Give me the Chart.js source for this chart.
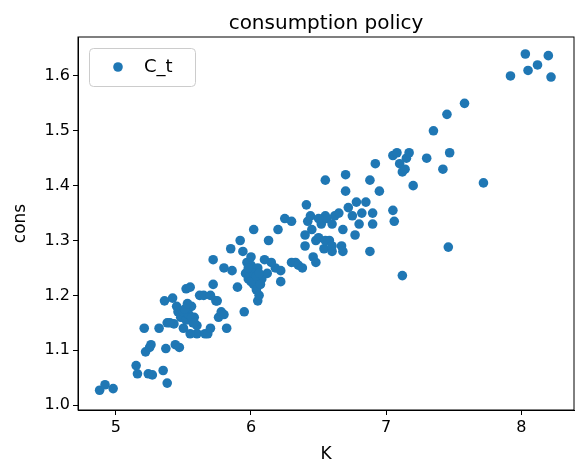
<!DOCTYPE html>
<html>
<head>
<meta charset="utf-8">
<script src="https://cdn.jsdelivr.net/npm/chart.js@4"></script>
<style>
  body { margin: 0; background: #fff; }
  #wrap { width: 584px; height: 472px; }
</style>
</head>
<body>
<div id="wrap"><canvas id="c" width="584" height="472"></canvas></div>
<script>
// capital stock K
const kVals = [4.88,4.92,4.98,5.15,5.16,5.22,5.24,5.27,5.21,5.25,5.26,5.32,5.35,5.38,5.37,5.38,5.36,5.42,5.43,5.44,5.47,5.46,5.5,5.52,5.55,5.56,5.5,5.53,5.57,5.58,5.6,5.62,5.6,5.55,5.66,5.68,5.7,5.72,5.72,5.74,5.75,5.76,5.78,5.8,5.8,5.82,5.85,5.86,5.9,5.92,5.94,5.95,5.96,5.98,6.0,6.0,6.01,6.02,6.03,6.05,6.04,6.05,6.06,6.08,6.1,6.02,5.97,6.0,6.12,6.13,6.18,6.2,6.22,6.22,6.25,6.3,6.3,6.33,6.35,6.38,6.4,6.4,6.41,6.42,6.44,6.45,6.46,6.48,6.48,6.5,6.52,6.54,6.55,6.55,6.56,6.58,6.6,6.6,6.62,6.65,6.67,6.68,6.68,6.7,6.7,6.72,6.75,6.77,6.78,6.8,6.82,6.85,6.88,6.88,6.9,6.9,6.92,6.95,7.05,7.06,7.05,7.08,7.1,7.12,7.12,7.14,7.15,7.17,7.2,7.3,7.35,7.42,7.45,7.47,7.46,7.58,7.72,7.92,8.03,8.05,8.12,8.2,8.22,
  5.48,5.5,5.52,5.54,5.56,5.58,5.51,5.53,5.99,6.01,6.03,6.0,6.02,6.04,5.98,6.06,6.07,5.45,5.4,5.65,5.7,6.15,6.55,6.6,6.5];
// consumption C_t
const cVals = [1.027,1.037,1.03,1.072,1.057,1.097,1.057,1.055,1.14,1.105,1.11,1.14,1.063,1.04,1.103,1.15,1.19,1.195,1.148,1.11,1.105,1.17,1.16,1.212,1.215,1.18,1.14,1.17,1.15,1.16,1.145,1.2,1.13,1.13,1.13,1.13,1.14,1.265,1.22,1.19,1.19,1.16,1.17,1.165,1.25,1.14,1.285,1.245,1.215,1.3,1.28,1.17,1.24,1.23,1.245,1.255,1.24,1.22,1.235,1.25,1.21,1.19,1.2,1.23,1.265,1.32,1.26,1.27,1.24,1.3,1.25,1.32,1.245,1.225,1.34,1.335,1.26,1.26,1.255,1.25,1.31,1.29,1.365,1.335,1.345,1.32,1.27,1.26,1.3,1.305,1.33,1.285,1.41,1.345,1.34,1.3,1.28,1.33,1.345,1.35,1.29,1.32,1.28,1.39,1.42,1.36,1.345,1.31,1.37,1.33,1.35,1.37,1.41,1.28,1.35,1.33,1.44,1.39,1.355,1.335,1.455,1.46,1.44,1.425,1.236,1.43,1.45,1.46,1.4,1.45,1.5,1.43,1.53,1.46,1.288,1.55,1.405,1.6,1.64,1.61,1.62,1.637,1.598,
  1.16,1.17,1.155,1.165,1.16,1.15,1.175,1.185,1.235,1.245,1.23,1.225,1.24,1.235,1.25,1.24,1.22,1.18,1.15,1.2,1.2,1.26,1.3,1.29,1.34];
const xTicks = [5, 6, 7, 8];
const yTicks = [1.0, 1.1, 1.2, 1.3, 1.4, 1.5, 1.6];

const FONT = 'DejaVu Sans';
const points = kVals.map((k, i) => ({ x: k, y: cVals[i] }));

// title, frame and legend drawn in matplotlib style
const decor = {
    id: 'decor',
    afterDraw(chart) {
        const { ctx, chartArea } = chart;
        ctx.save();
        ctx.strokeStyle = '#000';
        ctx.lineWidth = 1;
        ctx.strokeRect(chartArea.left, chartArea.top, chartArea.right - chartArea.left, chartArea.bottom - chartArea.top);

        ctx.fillStyle = '#000';
        ctx.font = `20px "${FONT}"`;
        ctx.textAlign = 'center';
        ctx.textBaseline = 'alphabetic';
        ctx.fillText('consumption policy', (chartArea.left + chartArea.right) / 2, 29);

        const lx = chartArea.left + 11, ly = chartArea.top + 11;
        ctx.strokeStyle = '#ccc';
        ctx.fillStyle = 'rgba(255,255,255,0.8)';
        ctx.beginPath();
        ctx.roundRect(lx + 0.5, ly + 0.5, 106, 38, 4);
        ctx.fill();
        ctx.stroke();
        ctx.fillStyle = '#1f77b4';
        ctx.beginPath();
        ctx.arc(lx + 29, ly + 19, 4.8, 0, Math.PI * 2);
        ctx.fill();
        ctx.fillStyle = '#000';
        ctx.font = `18px "${FONT}"`;
        ctx.textAlign = 'left';
        ctx.textBaseline = 'middle';
        ctx.fillText('C_t', lx + 55, ly + 19);
        ctx.restore();
    }
};

new Chart(document.getElementById('c'), {
    type: 'scatter',
    data: {
        datasets: [{
            label: 'C_t',
            data: points,
            backgroundColor: '#1f77b4',
            borderWidth: 0,
            pointRadius: 4.8
        }]
    },
    options: {
        responsive: false,
        animation: false,
        layout: { padding: { top: 37, right: 10, left: 8, bottom: 6 } },
        plugins: { legend: { display: false }, tooltip: { enabled: false } },
        scales: {
            x: {
                min: 4.72, max: 8.39,
                afterBuildTicks: axis => { axis.ticks = xTicks.map(v => ({ value: v })); },
                afterFit: axis => { axis.height = 56; },
                grid: { drawOnChartArea: false, color: '#000', tickLength: 5 },
                border: { color: '#000' },
                ticks: { color: '#000', font: { family: FONT, size: 16 }, padding: 3 },
                title: { display: true, text: 'K', color: '#000', font: { family: FONT, size: 17 }, padding: 1 }
            },
            y: {
                min: 0.991, max: 1.671,
                afterBuildTicks: axis => { axis.ticks = yTicks.map(v => ({ value: v })); },
                afterFit: axis => { axis.width = 70; },
                grid: { drawOnChartArea: false, color: '#000', tickLength: 5 },
                border: { color: '#000' },
                ticks: { color: '#000', font: { family: FONT, size: 16 }, padding: 3, callback: v => v.toFixed(1) },
                title: { display: true, text: 'cons', color: '#000', font: { family: FONT, size: 17 }, padding: 2 }
            }
        }
    },
    plugins: [decor]
});
</script>
</body>
</html>
